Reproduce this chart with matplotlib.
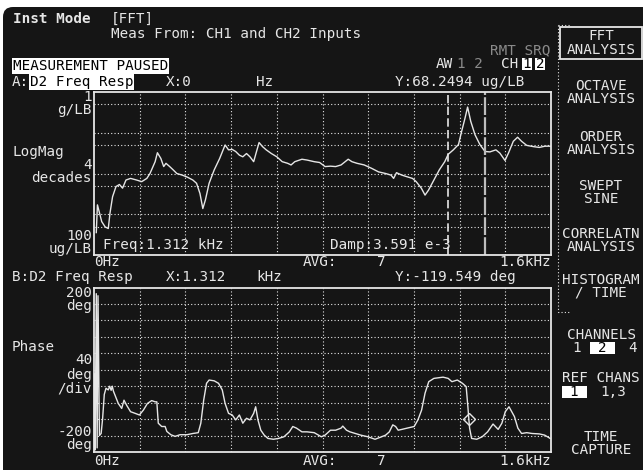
import matplotlib
matplotlib.use("Agg")
import matplotlib.pyplot as plt
import numpy as np
from matplotlib.patches import FancyBboxPatch, Rectangle

# screen data
mag_freq = [8, 12, 27, 39, 50, 56, 65, 77, 89, 100,
            112, 128, 149, 167, 185, 196, 214, 222, 234, 244,
            252, 265, 277, 290, 309, 327, 346, 359, 371, 381,
            390, 403, 421, 440, 459, 471, 484, 496, 509, 521,
            534, 546, 559, 569, 578, 590, 603, 621, 640, 659,
            678, 690, 703, 728, 746, 771, 790, 809, 828, 846,
            865, 890, 903, 921, 946, 971, 996, 1021, 1040, 1049,
            1059, 1078, 1096, 1115, 1128, 1146, 1159, 1171, 1190, 1209,
            1228, 1240, 1258, 1276, 1287, 1299, 1308, 1319, 1334, 1351,
            1369, 1386, 1407, 1421, 1439, 1451, 1468, 1483, 1497, 1515,
            1538, 1559, 1579, 1600]
mag_log10 = [-3.45, -2.77, -3.18, -3.31, -3.35, -2.97, -2.57, -2.32, -2.27, -2.36,
             -2.16, -2.12, -2.16, -2.20, -2.12, -2.00, -1.71, -1.49, -1.63, -1.83,
             -1.75, -1.83, -1.91, -2.00, -2.04, -2.09, -2.16, -2.24, -2.49, -2.86,
             -2.65, -2.24, -1.91, -1.63, -1.30, -1.42, -1.41, -1.46, -1.55, -1.59,
             -1.51, -1.59, -1.71, -1.46, -1.24, -1.34, -1.42, -1.51, -1.59, -1.71,
             -1.75, -1.79, -1.71, -1.65, -1.67, -1.71, -1.73, -1.83, -1.82, -1.83,
             -1.79, -1.65, -1.71, -1.75, -1.79, -1.87, -1.96, -2.00, -2.04, -2.12,
             -1.98, -2.04, -2.08, -2.12, -2.20, -2.36, -2.53, -2.41, -2.16, -1.91,
             -1.71, -1.53, -1.42, -1.29, -0.97, -0.64, -0.37, -0.72, -1.05, -1.29,
             -1.46, -1.47, -1.42, -1.50, -1.68, -1.50, -1.21, -1.11, -1.21, -1.31,
             -1.34, -1.36, -1.33, -1.33]

phase_freq = [2, 4, 8, 11, 14, 19, 25, 30, 36, 42, 50, 55, 60, 64, 68, 85, 97, 105, 114, 128,
              144, 159, 173, 187, 202, 214, 220, 225, 237, 249, 255, 269, 284, 301, 325, 346,
              365, 374, 384, 394, 403, 421, 436, 449, 459, 471, 484, 496, 509, 521, 534, 546,
              559, 566, 574, 584, 596, 609, 628, 646, 665, 684, 696, 709, 728, 746, 771, 796,
              809, 828, 846, 865, 871, 884, 896, 915, 934, 959, 984, 1003, 1021, 1034, 1046,
              1056, 1065, 1078, 1096, 1121, 1134, 1147, 1159, 1172, 1190, 1222, 1240, 1253,
              1272, 1290, 1303, 1309, 1312, 1315, 1322, 1340, 1359, 1378, 1397, 1415, 1428,
              1440, 1453, 1472, 1484, 1497, 1515, 1534, 1559, 1578, 1597]
phase_deg = [-10, -195, 185, -190, 180, -160, -155, -120, -60, -45, -49, -40, -50, -40, -52, -82, -94, -74, -86, -102,
             -106, -110, -98, -82, -75, -78, -78, -130, -138, -138, -150, -158, -162, -158, -158, -155,
             -153, -130, -74, -33, -25, -27, -33, -49, -82, -106, -110, -122, -110, -130, -118, -122,
             -106, -90, -122, -147, -159, -167, -169, -167, -163, -151, -138, -142, -151, -151, -153, -163,
             -159, -147, -147, -142, -137, -147, -151, -155, -159, -163, -169, -164, -159, -151, -134,
             -138, -147, -145, -142, -138, -122, -98, -57, -29, -21, -18, -21, -29,
             -25, -33, -41, -90, -117, -142, -167, -169, -163, -151, -132, -145, -130,
             -102, -90, -114, -142, -155, -153, -155, -156, -159, -167]

band_freq = [1239, 1369]          # band marker lines on trace A
marker_freq, marker_phase = 1312, -119.549

mag_grid = [0.5, 0.1, 0.05, 0.01, 0.005, 0.001, 0.0005]
freq_grid = [160, 320, 480, 640, 800, 960, 1120, 1280, 1440]
phase_grid = [160, 120, 80, 40, 0, -40, -80, -120, -160]

W, H = 643, 470
BG = '#151515'
FG = '#e6e6e6'
DIM = '#8a8a8a'
FONT = 'DejaVu Sans Mono'
FS = 10.3

fig = plt.figure(figsize=(W / 100, H / 100), dpi=100, facecolor='white')

# screen layer in pixel coordinates
scr = fig.add_axes([0, 0, 1, 1])
scr.set_xlim(0, W)
scr.set_ylim(H, 0)
scr.axis('off')
scr.add_patch(FancyBboxPatch((3, 7), 700, 520, boxstyle="round,pad=0,rounding_size=10",
                             facecolor=BG, edgecolor='none'))


def txt(x, y, s, ha='left', color=FG, box=None, **kw):
    bb = None
    if box is not None:
        bb = dict(facecolor=box, edgecolor='none', pad=0.6)
    scr.text(x, y, s, ha=ha, va='center', color=color, family=FONT, fontsize=FS,
             bbox=bb, **kw)


def inv_box(x0, y0, w, h):
    scr.add_patch(Rectangle((x0, y0), w, h, facecolor='white', edgecolor='none'))


# header
txt(13, 19, 'Inst Mode', fontweight='bold')
txt(111, 19, '[FFT]')
txt(111, 34, 'Meas From: CH1 and CH2 Inputs')
txt(550, 50, 'RMT SRQ', ha='right', color=DIM)
txt(13, 66, 'MEASUREMENT PAUSED', color='black', box='white')
txt(436, 64, 'AW', color=FG)
txt(457, 64, '1 2', color=DIM)
txt(501, 64, 'CH')
inv_box(522, 58, 10, 12)
txt(527, 64, '1', ha='center', color='black')
inv_box(535, 58, 10, 12)
txt(540, 64, '2', ha='center', color='black')

# trace A header and labels
txt(12, 82, 'A:')
txt(30, 82, 'D2 Freq Resp', color='black', box='white')
txt(166, 82, 'X:0')
txt(256, 82, 'Hz')
txt(395, 82, 'Y:68.2494 ug/LB')
txt(92, 97, '1', ha='right')
txt(92, 110, 'g/LB', ha='right')
txt(12, 152, 'LogMag')
txt(92, 165, '4', ha='right')
txt(92, 178, 'decades', ha='right')
txt(92, 236, '100', ha='right')
txt(92, 249, 'ug/LB', ha='right')
txt(103, 245, 'Freq:1.312 kHz')
txt(330, 245, 'Damp:3.591 e-3')
txt(94, 262, '0Hz')
txt(303, 262, 'AVG:')
txt(377, 262, '7')
txt(551, 262, '1.6kHz', ha='right')

# trace B header and labels
txt(12, 277, 'B:D2 Freq Resp')
txt(166, 277, 'X:1.312')
txt(256, 277, 'kHz')
txt(395, 277, 'Y:-119.549 deg')
txt(92, 293, '200', ha='right')
txt(92, 306, 'deg', ha='right')
txt(12, 347, 'Phase')
txt(92, 360, '40', ha='right')
txt(92, 375, 'deg', ha='right')
txt(92, 388, '/div', ha='right')
txt(92, 432, '-200', ha='right')
txt(92, 445, 'deg', ha='right')
txt(94, 461, '0Hz')
txt(303, 461, 'AVG:')
txt(377, 461, '7')
txt(551, 461, '1.6kHz', ha='right')

# softkey menu
scr.plot([558, 558, 570], [25, 312, 312], color=FG, lw=0.8, ls=(0, (1, 2)))
scr.plot([558, 570], [25, 25], color=FG, lw=0.8, ls=(0, (1, 2)))
scr.add_patch(Rectangle((560, 27), 82, 32, facecolor='none', edgecolor=FG, lw=1.3))
menu = [('FFT', 36), ('ANALYSIS', 50), ('OCTAVE', 86), ('ANALYSIS', 99),
        ('ORDER', 137), ('ANALYSIS', 150), ('SWEPT', 186), ('SINE', 199),
        ('CORRELATN', 234), ('ANALYSIS', 247), ('HISTOGRAM', 280), ('/ TIME', 293),
        ('CHANNELS', 335), ('REF CHANS', 378), ('TIME', 437), ('CAPTURE', 450)]
for label, y in menu:
    txt(601, y, label, ha='center')
txt(577, 348, '1', ha='center')
inv_box(590, 342, 25, 12)
txt(602, 348, '2', ha='center', color='black')
txt(633, 348, '4', ha='center')
inv_box(562, 386, 25, 12)
txt(574, 392, '1', ha='center', color='black')
txt(613, 392, '1,3', ha='center')


def frame(ax):
    ax.set_facecolor('none')
    ax.set_xlim(0, 1600)
    for s in ax.spines.values():
        s.set_color(FG)
        s.set_linewidth(1.3)
    ax.tick_params(left=False, bottom=False, labelleft=False, labelbottom=False,
                   which='both')
    ax.grid(True, which='major', color=FG, lw=0.8, ls=(0, (1, 2)))
    ax.set_xticks(freq_grid)


# trace A: log magnitude
axa = fig.add_axes([94 / W, 1 - 255 / H, 457 / W, 163 / H])
frame(axa)
axa.set_yscale('log')
axa.set_ylim(1e-4, 1)
axa.set_yticks(mag_grid)
axa.minorticks_off()
axa.plot(mag_freq, 10 ** np.array(mag_log10), color=FG, lw=1.0)
for i, f in enumerate(band_freq):
    axa.axvline(f, color=FG if i == 0 else '#bdbdbd', lw=1.2 if i == 0 else 1.6,
                ls=(0, (5, 2)) if i == 0 else (0, (8, 1)))

# trace B: phase
axb = fig.add_axes([94 / W, 1 - 452 / H, 457 / W, 164.5 / H])
frame(axb)
axb.set_ylim(-200, 200)
axb.set_yticks(phase_grid)
axb.plot(phase_freq, phase_deg, color=FG, lw=1.0)
axb.plot([marker_freq], [marker_phase], marker='D', ms=6, mfc='none', mec=FG, mew=1.0)

fig.savefig('out.png', dpi=100, facecolor='white')
